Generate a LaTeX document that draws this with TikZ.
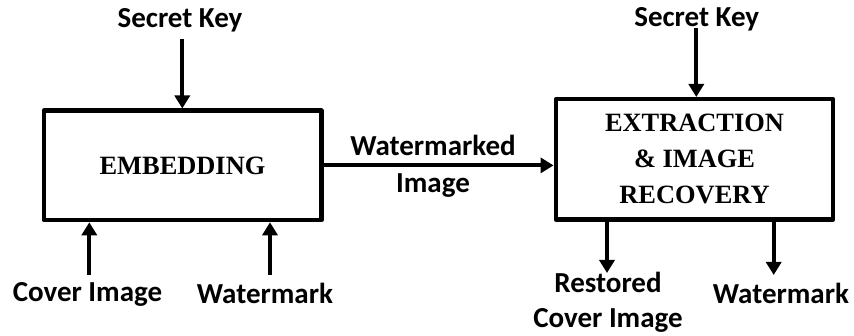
\documentclass[tikz,border=0pt]{standalone}
\usepackage{fontspec}
\setmainfont{Liberation Serif}
\newfontfamily\lblfont{Carlito}
\usetikzlibrary{arrows.meta}
\begin{document}
\begin{tikzpicture}[x=1pt,y=-1pt,
  box/.style={draw,line width=4.5pt,rectangle,line join=round,
    font=\fontsize{26.4}{36}\selectfont\bfseries,align=center,inner sep=0pt},
  lbl/.style={font=\lblfont\fontsize{29}{37}\selectfont\bfseries,inner sep=0pt},
  arr/.style={line width=4.2pt,-{Triangle[length=13pt,width=15pt]}}]
\useasboundingbox (0,0) rectangle (854,336);

% processing blocks
\node[box,minimum width=277.5pt,minimum height=109.3pt] (emb) at (182.5,165.4) {EMBEDDING};
\node[box,minimum width=277.4pt,minimum height=120.3pt] (ext) at (694.5,159.4) {EXTRACTION\\\& IMAGE\\RECOVERY};

% labels
\node[lbl,anchor=base] (key1) at (180,27.3) {Secret Key};
\node[lbl,anchor=base] (cov) at (87.5,301.7) {Cover Image};
\node[lbl,anchor=base] (wm1) at (265,303.3) {Watermark};
\node[lbl,align=center] (wmi) at (433,166.1) {Watermarked\\Image};
\node[lbl,anchor=base] (key2) at (696.7,27) {Secret Key};
\node[lbl,align=center,font=\lblfont\fontsize{29}{35}\selectfont\bfseries] (rci) at (608,302) {Restored\\Cover Image};
\node[lbl,anchor=base] (wm2) at (781,303.3) {Watermark};

% arrow end points
\coordinate (k1s) at (182.3,39.3);
\coordinate (c1s) at (89.3,275);
\coordinate (w1s) at (270,275);
\coordinate (k2s) at (696.3,28.3);
\coordinate (r1e) at (607,273);
\coordinate (w2e) at (773.7,275);

% connectors
\draw[arr] (k1s) -- (k1s |- emb.north);
\draw[arr] (c1s) -- (c1s |- emb.south);
\draw[arr] (w1s) -- (w1s |- emb.south);
\draw[arr] (emb.east) -- (emb.east -| ext.west);
\draw[arr] (k2s) -- (k2s |- ext.north);
\draw[arr] (r1e |- ext.south) -- (r1e);
\draw[arr] (w2e |- ext.south) -- (w2e);
\end{tikzpicture}
\end{document}
